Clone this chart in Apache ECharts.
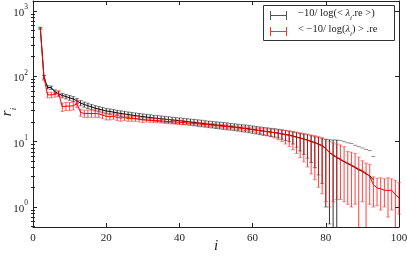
<!DOCTYPE html>
<html><head><meta charset="utf-8">
<script src="https://cdn.jsdelivr.net/npm/echarts@6/dist/echarts.min.js"></script>
<style>html,body{margin:0;padding:0;background:#fff}#c{width:407px;height:256px}</style>
</head><body><div id="c"></div>
<script>
// ---- data ----
const blackI = [2,3,4,5,6,7,8,9,10,11,12,13,14,15,16,17,18,19,20,21,22,23,24,25,26,27,28,29,30,31,32,33,34,35,36,37,38,39,40,41,42,43,44,45,46,47,48,49,50,51,52,53,54,55,56,57,58,59,60,61,62,63,64,65,66,67,68,69,70,71,72,73,74,75,76,77,78,79,80,81,82,83,84,85,86,87,88,89,90,91,92,93];
const blackR = [550,97,68,67,58,54,51,49,47,45,
 42,39,37,35.5,34,32.5,31.5,30.5,29.5,29,
 28.3,27.6,27,26.5,26,25.5,25,24.6,24.2,23.8,
 23.4,23,22.7,22.4,22.1,21.8,21.5,21.2,20.9,20.6,
 20.3,20,19.7,19.4,19.1,18.8,18.5,18.3,18,17.8,
 17.5,17.3,17,16.8,16.5,16.2,16,15.7,15.4,15.1,
 14.8,14.5,14.3,14,13.8,13.5,13.2,12.9,12.6,12.2,
 11.8,11.4,11,10.6,10.1,9.7,9.2,8.7,7.9,6.8,
 6.2,5.7,5.3,4.9,4.6,4.3,4.0,3.7,3.5,3.2,
 3.0,2.6];
const blackErrHi = [15,6,4,4,4,4,4,4,4,4,
 3.8,3.6,3.4,3.3,3.2,3.1,3.0,2.9,2.8,2.7,
 2.7,2.6,2.6,2.6,2.5,2.5,2.5,2.4,2.4,2.4,
 2.4,2.3,2.3,2.3,2.3,2.3,2.2,2.2,2.2,2.2,
 2.2,2.2,2.2,2.2,2.2,2.1,2.1,2.1,2.1,2.1,
 2.1,2.1,2.0,2.0,2.0,2.0,2.0,2.0,2.0,2.0,
 2.0,2.0,2.0,2.0,2.0,2.0,2.0,1.9,1.9,1.9,
 1.9,1.9,2.0,2.1,2.2,2.2,2.3,2.4,2.9,3.9,
 4.4,4.9,5.1,5.1,5.0,5.1,4.8,4.7,4.5,4.4,
 4.3,3.3];
const blackErrLo = [15,6,4,4,4,4,4,4,4,4,
 3.8,3.6,3.4,3.3,3.2,3.1,3.0,2.9,2.8,2.7,
 2.7,2.6,2.6,2.6,2.5,2.5,2.5,2.4,2.4,2.4,
 2.4,2.3,2.3,2.3,2.3,2.3,2.2,2.2,2.2,2.2,
 2.2,2.2,2.2,2.2,2.2,2.1,2.1,2.1,2.1,2.1,
 2.1,2.1,2.0,2.0,2.0,2.0,2.0,2.0,2.0,2.0,
 2.0,2.0,2.0,2.0,2.0,2.1,2.3,2.5,2.6,3.0,
 3.6,4.2,4.6,5.0,5.3,5.7,6.1,6.4,6.9,6.25,
 5.9,5.5,6,6,6,6,6,6,6,6,
 6,6];

const redI = [2,3,4,5,6,7,8,9,10,11,12,13,14,15,16,17,18,19,20,21,22,23,24,25,26,27,28,29,30,31,32,33,34,35,36,37,38,39,40,41,42,43,44,45,46,47,48,49,50,51,52,53,54,55,56,57,58,59,60,61,62,63,64,65,66,67,68,69,70,71,72,73,74,75,76,77,78,79,80,81,82,83,84,85,86,87,88,89,90,91,92,93,94,95,96,97,98,99,100];
const redR = [540,95,52,52,53,55,34,35,35,35.5,
 38,28,27,27,27,27,26.5,25.5,24.5,24,
 24.5,23.5,23,23.5,22.5,22.5,22.5,22,21.5,21.5,
 21.3,21,21,20.8,20.5,20.3,20.2,20,19.8,19.6,
 19.4,19.2,19,18.8,18.5,18.3,18.1,17.9,17.6,17.4,
 17.2,17,16.7,16.5,16.3,16,15.8,15.5,15.2,15,
 14.7,14.4,14.2,13.9,13.7,13.4,13.1,12.8,12.5,12.1,
 11.7,11.3,10.9,10.5,10.0,9.6,9.1,8.6,7.8,6.8,
 6.3,5.8,5.4,5.0,4.7,4.4,4.1,3.8,3.6,3.3,
 2.9,2.2,1.95,1.9,1.8,1.8,1.8,1.55,1.38];
const redErrHi = [20,8,5,5,5,6,5,5,5,5,
 5,3.5,3.5,3.5,3.5,3.5,3,3,3,2.5,
 2.5,2.5,2.5,2.5,2,2,2,2,2,1.5,
 1.5,1.5,1.5,1.5,1.5,1.5,1.5,1.5,1.5,1.5,
 1,1,1,1,1,1,1,1,1,1,
 1,1,1,1,1,1,1,1,1,1.2,
 1.3,1.4,1.5,1.6,1.7,1.8,1.9,2.0,2.1,2.2,
 2.3,2.4,2.5,2.6,2.7,2.8,2.9,3.0,3.1,3.2,
 3.3,3.4,3.5,3.4,2.4,2.5,2.5,2.0,1.5,1.4,
 1.6,0.7,0.8,0.9,0.9,1.0,0.9,1.0,1.0];
const redErrLo = [20,8,5,5,5,6,5,5,5,5,
 5,3.5,3.5,3.5,3.5,3.5,3,3,3,2.5,
 2.5,2.5,2.5,2.5,2,2,2,2,2,1.5,
 1.5,1.5,1.5,1.5,1.5,1.5,1.5,1.5,1.5,1.5,
 1,1,1,1,1,1,1,1,1,1,
 1,1,1,1,1,1,1,1,1,1.2,
 1.4,1.6,1.8,2.0,2.3,2.7,3.1,3.6,4.1,4.6,
 5.1,5.6,6.0,6.4,6.8,7.0,7.1,7.0,6.6,5.8,
 5.1,4.5,4.1,3.8,3.6,3.4,3.0,3.6,2.4,3.2,
 1.8,1.2,0.9,1.0,0.8,1.1,0.9,1.4,0.6];

const xTicks = [0,20,40,60,80,100];
const yMajor = [1,10,100,1000];
const yMinor = [0.5,0.6,0.7,0.8,0.9,2,3,4,5,6,7,8,9,20,30,40,50,60,70,80,90,200,300,400,500,600,700,800,900];
const legendLabels = ['black', 'red'];

// ---- chart ----
const FONT = 'Liberation Serif';
const yMin = 0.494, yMax = 1423;
const lMin = Math.log10(yMin), lMax = Math.log10(yMax);

function errSeries(xs, ys, lo, hi, barColor, capColor, z) {
  const data = ys.map((v, k) => [xs[k], v, lo[k], hi[k]]);
  return {
    type: 'custom', data, xAxisIndex: 0, yAxisIndex: 0, z, silent: true,
    encode: { x: 0, y: 1 },
    renderItem(params, api) {
      const x = api.value(0), v = api.value(1), eLo = api.value(2), eHi = api.value(3);
      const cs = params.coordSys;
      const bottom = cs.y + cs.height;
      const pHi = api.coord([x, v + eHi]);
      const px = pHi[0], yHi = pHi[1];
      const cw = 2;
      const ch = [];
      const low = v - eLo;
      if (low > 0) {
        let yLo = api.coord([x, low])[1];
        let capLo = true;
        if (yLo > bottom) { yLo = bottom; capLo = false; }
        ch.push({ type: 'line', shape: { x1: px, y1: yHi, x2: px, y2: yLo }, style: { stroke: barColor, lineWidth: 1 } });
        if (capLo) ch.push({ type: 'line', shape: { x1: px - cw, y1: yLo, x2: px + cw, y2: yLo }, style: { stroke: capColor, lineWidth: 1 } });
      }
      ch.push({ type: 'line', shape: { x1: px - cw, y1: yHi, x2: px + cw, y2: yHi }, style: { stroke: capColor, lineWidth: 1 } });
      return { type: 'group', children: ch };
    }
  };
}

const axisLineStyle = { color: '#222', width: 1 };
const chart = echarts.init(document.getElementById('c'), null, { renderer: 'canvas' });

const option = {
  animation: false,
  backgroundColor: '#fff',
  grid: { left: 33, right: 8, top: 1, bottom: 29, containLabel: false, outerBoundsMode: 'none' },
  xAxis: [
    { type: 'value', position: 'bottom', min: 0, max: 100, interval: 20,
      axisLine: { show: true, onZero: false, lineStyle: axisLineStyle },
      axisTick: { show: true, inside: true, length: 4, lineStyle: axisLineStyle },
      splitLine: { show: false },
      axisLabel: { show: true, margin: 6, fontFamily: FONT, fontSize: 11, color: '#222' } },
    { type: 'value', position: 'top', min: 0, max: 100, interval: 20,
      axisLine: { show: true, onZero: false, lineStyle: axisLineStyle },
      axisTick: { show: true, inside: true, length: 4, lineStyle: axisLineStyle },
      splitLine: { show: false }, axisLabel: { show: false } }
  ],
  yAxis: [
    { type: 'log', logBase: 10, position: 'left', min: yMin, max: yMax,
      axisLine: { show: true, onZero: false, lineStyle: axisLineStyle },
      axisTick: { show: true, inside: true, length: 4, lineStyle: axisLineStyle },
      splitLine: { show: false },
      axisLabel: { show: true, margin: 5, showMinLabel: true, showMaxLabel: true,
        formatter: function (val) {
          for (const m of yMajor) { if (Math.abs(val - m) / m < 1e-6) return '{b|10}{s|' + Math.round(Math.log10(m)) + '}'; }
          return '';
        },
        rich: {
          b: { fontFamily: FONT, fontSize: 11, color: '#222', padding: [4, 0, 0, 0], verticalAlign: 'bottom' },
          s: { fontFamily: FONT, fontSize: 7.5, color: '#222', verticalAlign: 'top' }
        } } },
    { type: 'value', position: 'left', min: lMin, max: lMax,
      axisLine: { show: false },
      axisTick: { show: true, inside: true, length: 2, lineStyle: axisLineStyle, customValues: yMinor.map(v => Math.log10(v)) },
      axisLabel: { show: false }, splitLine: { show: false } },
    { type: 'log', logBase: 10, position: 'right', min: yMin, max: yMax,
      axisLine: { show: true, onZero: false, lineStyle: axisLineStyle },
      axisTick: { show: true, inside: true, length: 4, lineStyle: axisLineStyle },
      axisLabel: { show: false }, splitLine: { show: false } },
    { type: 'value', position: 'right', min: lMin, max: lMax,
      axisLine: { show: false },
      axisTick: { show: true, inside: true, length: 2, lineStyle: axisLineStyle, customValues: yMinor.map(v => Math.log10(v)) },
      axisLabel: { show: false }, splitLine: { show: false } }
  ],
  series: [
    errSeries(blackI, blackR, blackErrLo, blackErrHi, 'rgba(0,0,0,0.8)', 'rgba(0,0,0,0.45)', 2),
    { type: 'line', name: legendLabels[0], data: blackI.map((x, k) => [x, blackR[k]]), xAxisIndex: 0, yAxisIndex: 0,
      symbol: 'none', lineStyle: { color: '#000', width: 1 }, z: 3, silent: true },
    errSeries(redI, redR, redErrLo, redErrHi, 'rgba(255,0,0,0.75)', 'rgba(255,40,40,0.5)', 4),
    { type: 'line', name: legendLabels[1], data: redI.map((x, k) => [x, redR[k]]), xAxisIndex: 0, yAxisIndex: 0,
      symbol: 'none', lineStyle: { color: '#ff0000', width: 1 }, z: 5, silent: true }
  ],
  graphic: [
    { type: 'text', x: 216, y: 246, z: 10,
      style: { text: 'i', align: 'center', verticalAlign: 'middle', fontFamily: FONT, fontStyle: 'italic', fontSize: 15, fill: '#222' } },
    { type: 'text', x: 9, y: 112, rotation: Math.PI / 2, z: 10,
      style: { text: '{r|r}{s|i}', align: 'center', verticalAlign: 'middle',
        rich: { r: { fontFamily: FONT, fontStyle: 'italic', fontSize: 15, fill: '#222', padding: [0, 0, 4, 0], verticalAlign: 'top' },
                s: { fontFamily: FONT, fontStyle: 'italic', fontSize: 9, fill: '#222', verticalAlign: 'bottom' } } } },
    { type: 'group', z: 20, children: [
      { type: 'rect', shape: { x: 263.5, y: 5.5, width: 131, height: 35 }, style: { fill: '#fff', stroke: '#333', lineWidth: 1 } },
      { type: 'line', shape: { x1: 270, y1: 15.5, x2: 287, y2: 15.5 }, style: { stroke: '#555', lineWidth: 1 } },
      { type: 'line', shape: { x1: 270.5, y1: 11, x2: 270.5, y2: 20 }, style: { stroke: '#555', lineWidth: 1 } },
      { type: 'line', shape: { x1: 286.5, y1: 11, x2: 286.5, y2: 20 }, style: { stroke: '#555', lineWidth: 1 } },
      { type: 'line', shape: { x1: 270, y1: 31.5, x2: 287, y2: 31.5 }, style: { stroke: '#f33', lineWidth: 1 } },
      { type: 'line', shape: { x1: 270.5, y1: 27, x2: 270.5, y2: 36 }, style: { stroke: '#f33', lineWidth: 1 } },
      { type: 'line', shape: { x1: 286.5, y1: 27, x2: 286.5, y2: 36 }, style: { stroke: '#f33', lineWidth: 1 } },
      { type: 'text', x: 298, y: 15, style: { text: '{t|−10/ log(< }{l|λ}{s|i}{t|.re >)}', verticalAlign: 'middle', align: 'left',
        rich: {
          t: { fontFamily: FONT, fontSize: 10.5, fill: '#222', padding: [0, 0, 3, 0], verticalAlign: 'top' },
          l: { fontFamily: FONT, fontStyle: 'italic', fontSize: 10.5, fill: '#222', padding: [0, 0, 3, 0], verticalAlign: 'top' },
          s: { fontFamily: FONT, fontStyle: 'italic', fontSize: 7, fill: '#222', verticalAlign: 'bottom' } } } },
      { type: 'text', x: 298, y: 31, style: { text: '{t|< −10/ log(}{l|λ}{s|i}{t|) > .re}', verticalAlign: 'middle', align: 'left',
        rich: {
          t: { fontFamily: FONT, fontSize: 10.5, fill: '#222', padding: [0, 0, 3, 0], verticalAlign: 'top' },
          l: { fontFamily: FONT, fontStyle: 'italic', fontSize: 10.5, fill: '#222', padding: [0, 0, 3, 0], verticalAlign: 'top' },
          s: { fontFamily: FONT, fontStyle: 'italic', fontSize: 7, fill: '#222', verticalAlign: 'bottom' } } } }
    ] }
  ]
};
chart.setOption(option);
</script>
</body></html>
